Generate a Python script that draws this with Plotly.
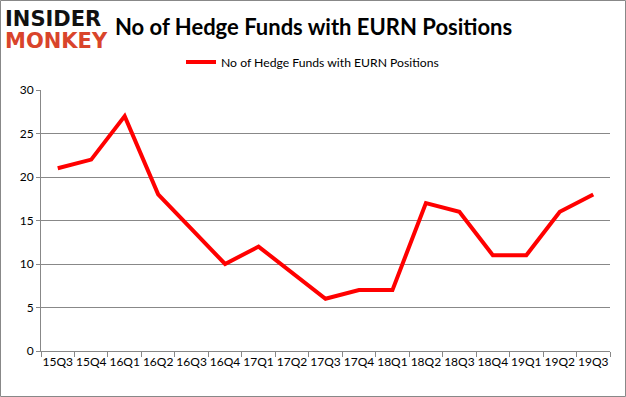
import plotly.graph_objects as go

quarters = ["15Q3", "15Q4", "16Q1", "16Q2", "16Q3", "16Q4", "17Q1", "17Q2", "17Q3",
            "17Q4", "18Q1", "18Q2", "18Q3", "18Q4", "19Q1", "19Q2", "19Q3"]
hedge_funds = [21, 22, 27, 18, 14, 10, 12, 9, 6, 7, 7, 17, 16, 11, 11, 16, 18]
y_ticks = [0, 5, 10, 15, 20, 25, 30]

W, H = 626, 397
L, R, T, B = 41, 16, 90, 46
pw, ph = W - L - R, H - T - B

def px(x):
    return (x - L) / pw

def py(y):
    return (H - B - y) / ph

fig = go.Figure()
fig.add_trace(go.Scatter(
    x=quarters, y=hedge_funds, mode="lines",
    name="No of Hedge Funds with EURN Positions",
    line=dict(color="#ff0000", width=4),
))

fig.update_layout(
    width=W, height=H,
    margin=dict(l=L, r=R, t=T, b=B, autoexpand=False),
    paper_bgcolor="white", plot_bgcolor="white",
    font=dict(family="Lato, Open Sans, sans-serif", size=11, color="#000"),
    showlegend=True,
    legend=dict(orientation="h", x=px(181), xanchor="left", y=py(62), yanchor="middle",
                font=dict(size=12.2), bgcolor="rgba(0,0,0,0)", itemwidth=30),
    xaxis=dict(type="category", range=[-0.5, len(quarters) - 0.5], automargin=False,
               showgrid=False, showline=True, linecolor="#888", linewidth=1,
               ticks="outside", ticklen=5, tickcolor="#888", tickson="boundaries",
               tickangle=0, tickfont=dict(size=12), fixedrange=True),
    yaxis=dict(range=[0, 30], tickvals=y_ticks, showgrid=True, gridcolor="#888",
               gridwidth=1, showline=True, linecolor="#888", linewidth=1, automargin=False,
               ticks="outside", ticklen=4, tickcolor="#888", zeroline=False,
               tickfont=dict(size=12), fixedrange=True),
    shapes=[dict(type="rect", xref="paper", yref="paper",
                 x0=px(0.5), x1=px(625.5), y0=py(396.5), y1=py(0.5),
                 line=dict(color="#888", width=1))],
    annotations=[
        dict(text="<b>No of Hedge Funds with EURN Positions</b>", xref="paper", yref="paper",
             x=px(313), y=py(27), xanchor="center", yanchor="middle", showarrow=False,
             font=dict(size=22, color="#000", family="Lato, Open Sans, sans-serif")),
        dict(text="<b>INSIDER</b>", xref="paper", yref="paper",
             x=px(3), y=py(19), xanchor="left", yanchor="middle", showarrow=False,
             font=dict(size=21, color="#111", family="DejaVu Sans")),
        dict(text="<b>MONKEY</b>", xref="paper", yref="paper",
             x=px(3), y=py(41), xanchor="left", yanchor="middle", showarrow=False,
             font=dict(size=21, color="#d9442b", family="DejaVu Sans")),
    ],
)

fig.write_html("out.html", config={"displayModeBar": False, "staticPlot": True})
with open("out.html", encoding="utf-8") as f:
    html = f.read()
html = html.replace("<head>", "<head><style>html,body{margin:0;padding:0;overflow:hidden;}</style>", 1)
with open("out.html", "w", encoding="utf-8") as f:
    f.write(html)
